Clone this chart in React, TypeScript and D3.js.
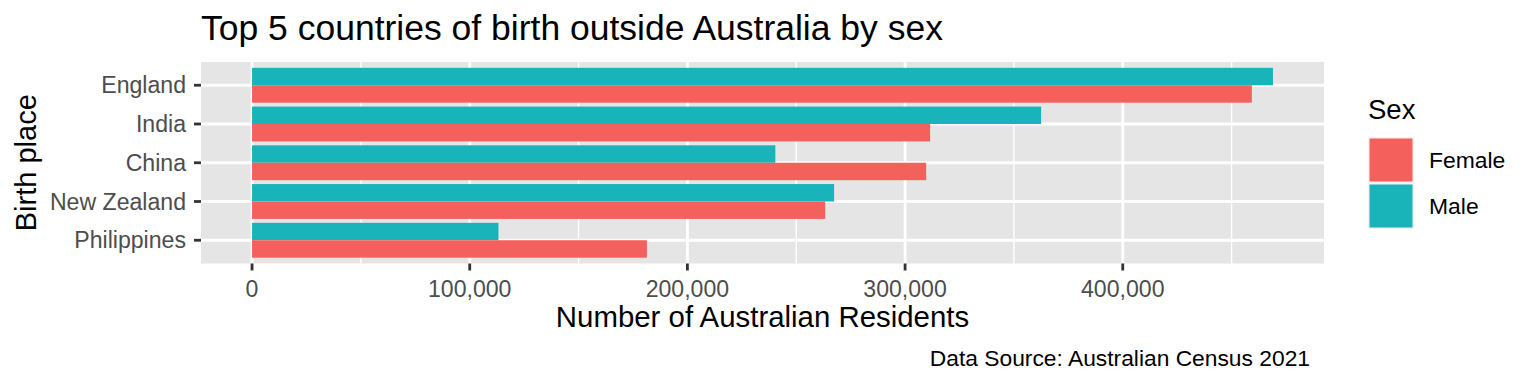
import React from "react";
import * as d3 from "d3";

const countries = ["England", "India", "China", "New Zealand", "Philippines"];
const sexes = ["Female", "Male"];
const maleValues = [469000, 362500, 240400, 267400, 113200];
const femaleValues = [459300, 311500, 309700, 263300, 181400];
const xTicks = [0, 100000, 200000, 300000, 400000];
const xMinorTicks = [50000, 150000, 250000, 350000, 450000];

const title = "Top 5 countries of birth outside Australia by sex";
const xTitle = "Number of Australian Residents";
const yTitle = "Birth place";
const legendTitle = "Sex";
const caption = "Data Source: Australian Census 2021";

const colors: Record<string, string> = { Female: "#F4615C", Male: "#19B4B9" };

const W = 1536;
const H = 384;
const P = { left: 201, right: 1324, top: 62, bottom: 263.5 };
const FONT = "'Liberation Sans', Arial, Helvetica, sans-serif";

export default function App() {
  const maxV = d3.max([...maleValues, ...femaleValues]) as number;
  const x = d3
    .scaleLinear()
    .domain([-0.05 * maxV, 1.05 * maxV])
    .range([P.left, P.right]);
  const y = d3
    .scaleLinear()
    .domain([-0.6, countries.length - 1 + 0.6])
    .range([P.top, P.bottom]);
  const fmt = d3.format(",");
  const half = 0.45;

  return (
    <div style={{ position: "absolute", left: 0, top: 0 }}>
      <svg width={W} height={H} style={{ display: "block", fontFamily: FONT }}>
        <rect x={0} y={0} width={W} height={H} fill="#FFFFFF" />
        {/* panel */}
        <rect x={P.left} y={P.top} width={P.right - P.left} height={P.bottom - P.top} fill="#E5E5E5" />
        {xMinorTicks.map((t) => (
          <line key={"mn" + t} x1={x(t)} x2={x(t)} y1={P.top} y2={P.bottom} stroke="#FFFFFF" strokeWidth={1.4} />
        ))}
        {xTicks.map((t) => (
          <line key={"mj" + t} x1={x(t)} x2={x(t)} y1={P.top} y2={P.bottom} stroke="#FFFFFF" strokeWidth={2.8} />
        ))}
        {countries.map((c, i) => (
          <line key={"hy" + c} x1={P.left} x2={P.right} y1={y(i)} y2={y(i)} stroke="#FFFFFF" strokeWidth={2.8} />
        ))}
        {/* bars */}
        {countries.map((c, i) => (
          <g key={"bar" + c}>
            <rect
              x={x(0)}
              y={y(i - half)}
              width={x(maleValues[i]) - x(0)}
              height={y(i) - y(i - half)}
              fill={colors.Male}
            />
            <rect
              x={x(0)}
              y={y(i)}
              width={x(femaleValues[i]) - x(0)}
              height={y(i + half) - y(i)}
              fill={colors.Female}
            />
          </g>
        ))}
        {/* x axis */}
        {xTicks.map((t) => (
          <g key={"xt" + t}>
            <line x1={x(t)} x2={x(t)} y1={P.bottom} y2={P.bottom + 7} stroke="#333333" strokeWidth={2.8} />
            <text x={x(t)} y={P.bottom + 33} textAnchor="middle" fontSize={23.1} fill="#4D4D4D">
              {fmt(t)}
            </text>
          </g>
        ))}
        <text x={(P.left + P.right) / 2} y={327} textAnchor="middle" fontSize={29.4} fill="#000000">
          {xTitle}
        </text>
        {/* y axis */}
        {countries.map((c, i) => (
          <g key={"yt" + c}>
            <line x1={P.left - 7} x2={P.left} y1={y(i)} y2={y(i)} stroke="#333333" strokeWidth={2.8} />
            <text x={P.left - 15} y={y(i) + 8} textAnchor="end" fontSize={23.1} fill="#4D4D4D">
              {c}
            </text>
          </g>
        ))}
        <text
          transform={`translate(36,${(P.top + P.bottom) / 2}) rotate(-90)`}
          textAnchor="middle"
          fontSize={29}
          fill="#000000"
        >
          {yTitle}
        </text>
        {/* title */}
        <text x={P.left} y={40} fontSize={35.5} fill="#000000">
          {title}
        </text>
        {/* legend */}
        <text x={1368} y={119} fontSize={27.5} fill="#000000">
          {legendTitle}
        </text>
        {sexes.map((s, i) => (
          <g key={"lg" + s}>
            <rect x={1368} y={137 + i * 46} width={46} height={46} fill="#F2F2F2" />
            <rect x={1369.5} y={138.5 + i * 46} width={43} height={43} fill={colors[s]} />
            <text x={1429} y={168 + i * 46} fontSize={22.9} fill="#000000">
              {s}
            </text>
          </g>
        ))}
        {/* caption */}
        <text x={1310} y={366} textAnchor="end" fontSize={22.8} fill="#000000">
          {caption}
        </text>
      </svg>
    </div>
  );
}
